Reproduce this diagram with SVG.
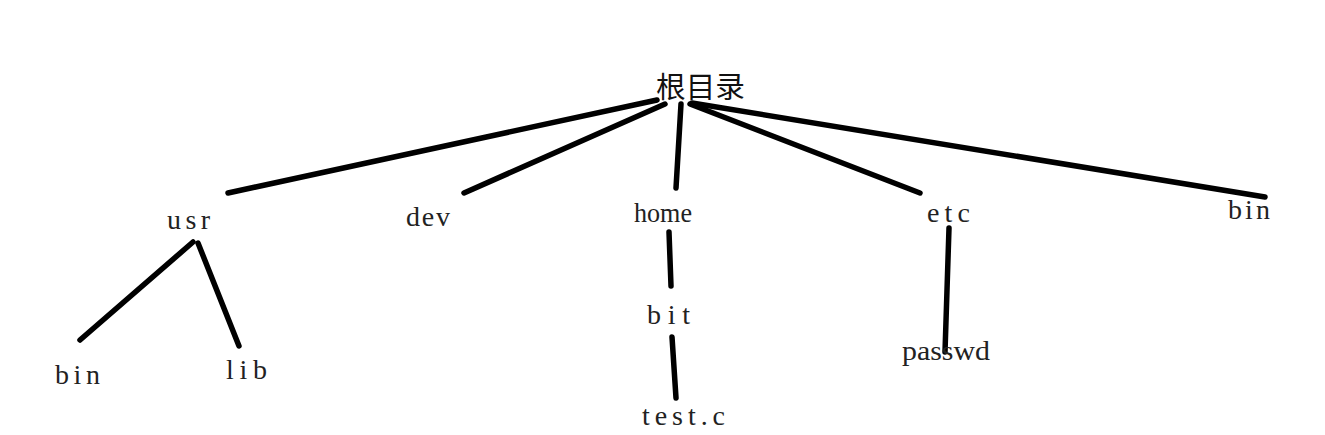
<svg xmlns="http://www.w3.org/2000/svg" width="1325" height="435" viewBox="0 0 1325 435">
<style>
.t{font-family:"Liberation Serif","DejaVu Serif",serif;font-size:28px;fill:#222}
.c{font-family:"Noto Sans CJK SC","Noto Sans",sans-serif;font-size:29px;fill:#111}
.l{stroke:#000;stroke-width:5.5;stroke-linecap:round;fill:none}
</style>
<rect width="1325" height="435" fill="#fff"/>
<g id="connectors">
<line class="l" x1="657" y1="100" x2="228" y2="193"/>
<line class="l" x1="665" y1="104" x2="464" y2="193"/>
<line class="l" x1="681" y1="104" x2="676" y2="188"/>
<line class="l" x1="690" y1="104" x2="920" y2="193"/>
<line class="l" x1="692" y1="103" x2="1265" y2="197"/>
<line class="l" x1="193" y1="242" x2="80" y2="340"/>
<line class="l" x1="198" y1="243" x2="239" y2="346"/>
<line class="l" x1="669" y1="232" x2="671" y2="286"/>
<line class="l" x1="672" y1="337" x2="676" y2="398"/>
<polyline class="l" points="949,228 947,290 945,352"/>
</g>
<g id="root"><text class="c" x="656" y="98" textLength="89" lengthAdjust="spacingAndGlyphs">根目录</text></g>
<g id="usr"><text class="t" x="167" y="229" textLength="43" lengthAdjust="spacing">usr</text></g>
<g id="dev"><text class="t" x="406" y="226" textLength="44" lengthAdjust="spacing">dev</text></g>
<g id="home"><text class="t" x="634" y="222" textLength="58" lengthAdjust="spacingAndGlyphs">home</text></g>
<g id="etc"><text class="t" x="927" y="222" textLength="43" lengthAdjust="spacing">etc</text></g>
<g id="bin2"><text class="t" x="1228" y="219" textLength="42" lengthAdjust="spacing">bin</text></g>
<g id="bin1"><text class="t" x="55" y="384" textLength="45" lengthAdjust="spacing">bin</text></g>
<g id="lib"><text class="t" x="226" y="379" textLength="41" lengthAdjust="spacing">lib</text></g>
<g id="bit"><text class="t" x="647" y="324" textLength="43" lengthAdjust="spacing">bit</text></g>
<g id="testc"><text class="t" x="642" y="425" textLength="83" lengthAdjust="spacing">test.c</text></g>
<g id="passwd"><text class="t" x="902" y="360" textLength="88" lengthAdjust="spacingAndGlyphs">passwd</text></g>
</svg>
